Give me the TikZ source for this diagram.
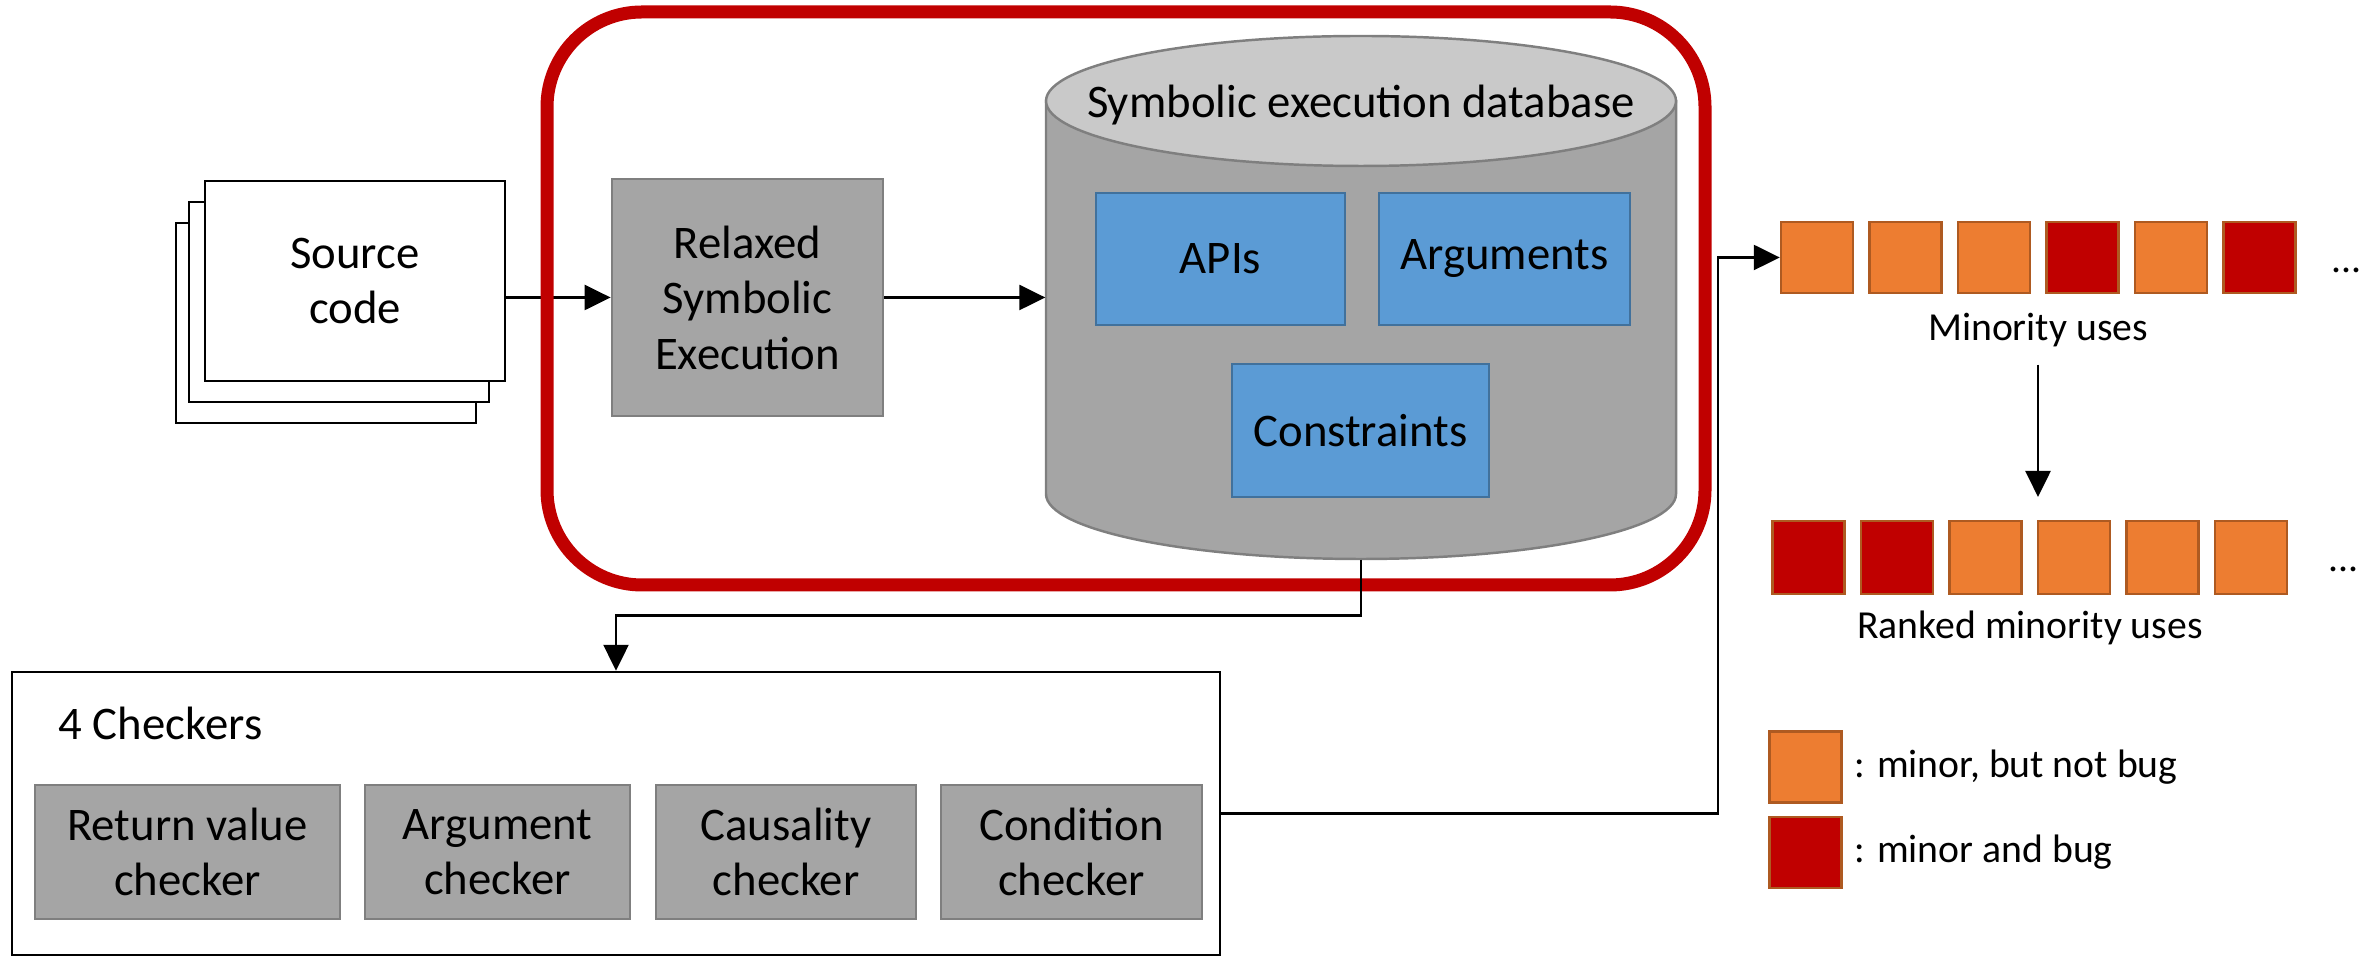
\documentclass[tikz,border=0pt]{standalone}
\usepackage{fontspec}
\setmainfont{Carlito}
\usetikzlibrary{arrows.meta,positioning}

\definecolor{frameRed}{HTML}{C00000}
\definecolor{bugRed}{HTML}{C00000}
\definecolor{minorOrange}{HTML}{ED7D31}
\definecolor{sqEdge}{HTML}{AE5A21}
\definecolor{dbBlue}{HTML}{5B9BD5}
\definecolor{blueEdge}{HTML}{41719C}
\definecolor{boxGray}{HTML}{A5A5A5}
\definecolor{boxEdge}{HTML}{7F7F7F}
\definecolor{dbTop}{HTML}{C9C9C9}

\tikzset{
  big/.style={font=\fontsize{13.3}{15.8}\selectfont},
  small/.style={font=\fontsize{11.3}{13.5}\selectfont},
  src_pg/.style={draw, fill=white, line width=.7pt, minimum width=30mm, minimum height=20mm},
  gray_box/.style={draw=boxEdge, fill=boxGray, line width=.8pt, align=center, big},
  blue_box/.style={draw=blueEdge, fill=dbBlue, line width=.7pt, big},
  use_sq/.style={draw=sqEdge, line width=.7pt, minimum width=7.2mm, minimum height=7.1mm, inner sep=0},
}

\begin{document}
\begin{tikzpicture}[
  x=0.1mm, y=0.1mm,
  arr/.style={-{Triangle[length=2.6mm,width=2.5mm]}, line width=.7pt},
  lbl/.style={inner sep=0, small},
  ]
  \useasboundingbox (0,0) rectangle (2380,958);

  % source pages
  \node[src_pg] (src3) at (326,635) {};
  \node[src_pg] (src2) at (339,656) {};
  \node[src_pg, big, align=center] (src) at (355,677) {Source\\code};

  \node[gray_box, minimum width=27.1mm, minimum height=23.7mm] (relax) at (747.5,660.5) {Relaxed\\Symbolic\\Execution};

  \draw[arr] (src.east |- relax.west) -- (relax.west);

  % database
  \node[minimum width=63mm, minimum height=52.3mm] (db) at (1361,660.5) {};
  \filldraw[fill=boxGray, draw=boxEdge, line width=.7pt]
       (1046,857) -- (1046,464) arc[start angle=180, end angle=360, x radius=315, y radius=65] -- (1676,857) -- cycle;
  \filldraw[fill=dbTop, draw=boxEdge, line width=.7pt] (1361,857) ellipse[x radius=315, y radius=65];
  \node[big] (dbname) at (1361,853) {Symbolic execution database};

  \node[blue_box, minimum width=24.9mm, minimum height=13.2mm] (apis) at (1220.5,699) {APIs};
  \node[blue_box, minimum width=25.1mm, minimum height=13.2mm] (args) at (1504.5,699) {Arguments};
  \node[blue_box, minimum width=25.7mm, minimum height=13.3mm] (cons) at (1360.5,527.5) {Constraints};

  \draw[frameRed, line width=1.3mm, rounded corners=9.5mm] (547,373) rectangle (1705,946);

  \draw[arr] (relax.east) -- (relax.east -| db.west);

  % checkers
  \node[draw, line width=.7pt, minimum width=120.8mm, minimum height=28.3mm] (chk) at (616,144.5) {};
  \node[big, anchor=west, inner sep=0] (chkname) at (58,235) {4 Checkers};
  \node[gray_box, minimum width=30.5mm, minimum height=13.4mm] (ret) at (187.5,106) {Return value\\checker};
  \node[gray_box, minimum width=26.5mm, minimum height=13.4mm] (argc) at (497.5,106) {Argument\\checker};
  \node[gray_box, minimum width=26mm, minimum height=13.4mm] (caus) at (786,106) {Causality\\checker};
  \node[gray_box, minimum width=26.1mm, minimum height=13.4mm] (cond) at (1071.5,106) {Condition\\checker};

  \draw[arr] (db.south) -- ++(0,-56) -| (chk.north);

  % minority uses
  \foreach \c [count=\i] in {minorOrange,minorOrange,minorOrange,bugRed,minorOrange,bugRed}
    \node[use_sq, fill=\c] (m\i) at ({1817+(\i-1)*88.5},700.5) {};
  \node[lbl, anchor=base west] (mdots) at (2331,685) {...};
  \node[lbl] (mlbl) at (2038,628) {Minority uses};

  \coordinate (bend) at (1718,700.5);
  \draw[arr] (chk.east) -| (bend) -- (m1.west);

  % ranked
  \foreach \c [count=\i] in {bugRed,bugRed,minorOrange,minorOrange,minorOrange,minorOrange}
    \node[use_sq, fill=\c, minimum height=7.3mm] (r\i) at ({1808.5+(\i-1)*88.5},400.5) {};
  \node[lbl, anchor=base west] (rdots) at (2328,386) {...};
  \node[lbl] (rlbl) at (2030,330) {Ranked minority uses};

  \coordinate (rankin) at (2041,461);
  \draw[arr, shorten <=1.7mm] (mlbl.south) -- (mlbl.south |- rankin);

  % legend
  \node[use_sq, fill=minorOrange] (key1) at (1805.5,191) {};
  \node[use_sq, fill=bugRed] (key2) at (1805.5,105.5) {};
  \node[lbl, right=1.1mm of key1] (key1txt) {: minor, but not bug};
  \node[lbl, right=1.1mm of key2] (key2txt) {: minor and bug};

\end{tikzpicture}
\end{document}
